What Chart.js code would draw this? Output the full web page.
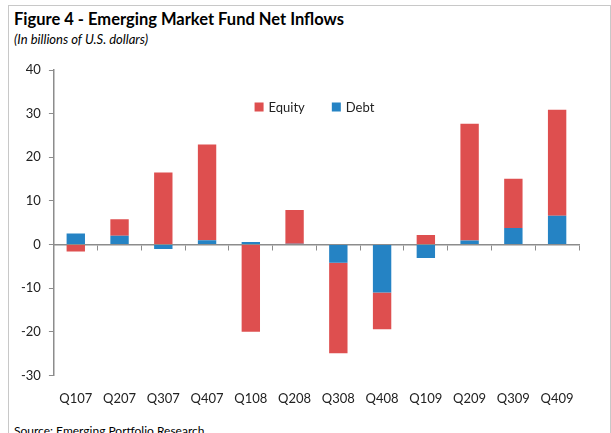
<!DOCTYPE html>
<html>
<head>
<meta charset="utf-8">
<script src="https://cdn.jsdelivr.net/npm/chart.js@4/dist/chart.umd.min.js"></script>
<style>
  html, body { margin: 0; padding: 0; background: #fff; }
  body { width: 611px; height: 433px; position: relative; overflow: hidden; font-family: Lato, "Open Sans", sans-serif; }
  .frame { position: absolute; left: 8px; top: 5px; width: 601px; height: 440px; border: 1px solid #c8c8c8; border-bottom: none; }
  .title { position: absolute; left: 14px; top: 9px; font-size: 16.5px; font-weight: bold; color: #000; }
  .subtitle { position: absolute; left: 14px; top: 31px; font-size: 13px; font-style: italic; color: #000; }
  .source { position: absolute; left: 14px; top: 423px; font-size: 12px; color: #000; }
  #chartWrap { position: absolute; left: 0; top: 0; width: 611px; height: 433px; }
</style>
</head>
<body>
<div class="frame"></div>
<div class="title">Figure 4 - Emerging Market Fund Net Inflows</div>
<div class="subtitle">(In billions of U.S. dollars)</div>
<div class="source">Source: Emerging Portfolio Research</div>
<div id="chartWrap"><canvas id="fundChart" width="611" height="433"></canvas></div>
<script>
// data
const quarters = ['Q107', 'Q207', 'Q307', 'Q407', 'Q108', 'Q208', 'Q308', 'Q408', 'Q109', 'Q209', 'Q309', 'Q409'];
const debt = [2.5, 2.0, -1.0, 1.0, 0.6, 0.2, -4.2, -11.0, -3.1, 0.9, 3.8, 6.6];
const equity = [-1.6, 3.8, 16.5, 21.9, -20.0, 7.7, -20.7, -8.4, 2.2, 26.8, 11.3, 24.3];
const yTicks = [-30, -20, -10, 0, 10, 20, 30, 40];

const equityColor = '#de4f4f';
const debtColor = '#2583c4';
const axisColor = '#8c8c8c';

// legend drawn inside the plot area, like the original
const innerLegend = {
    id: 'innerLegend',
    afterDraw(chart) {
        const ctx = chart.ctx;
        const area = chart.chartArea;
        const items = chart.data.datasets.slice().reverse();
        ctx.save();
        ctx.font = '13px Lato, "Open Sans", sans-serif';
        ctx.textBaseline = 'middle';
        const box = 9, gap = 5, spacing = 27;
        let total = 0;
        items.forEach((ds, i) => {
            total += box + gap + ctx.measureText(ds.label).width + (i < items.length - 1 ? spacing : 0);
        });
        let x = (area.left + area.right) / 2 - total / 2 - 2;
        const y = 107;
        items.forEach(ds => {
            ctx.fillStyle = ds.backgroundColor;
            ctx.fillRect(x, y - box / 2, box, box);
            x += box + gap;
            ctx.fillStyle = '#222';
            ctx.fillText(ds.label, x, y + 1);
            x += ctx.measureText(ds.label).width + spacing;
        });
        ctx.restore();
    }
};

const ctx = document.getElementById('fundChart').getContext('2d');
const fundChart = new Chart(ctx, {
    type: 'bar',
    data: {
        labels: quarters,
        datasets: [{
            label: 'Debt',
            data: debt,
            backgroundColor: debtColor,
            barPercentage: 0.42,
            categoryPercentage: 1
        }, {
            label: 'Equity',
            data: equity,
            backgroundColor: equityColor,
            barPercentage: 0.42,
            categoryPercentage: 1
        }]
    },
    options: {
        responsive: false,
        animation: false,
        layout: {
            padding: { left: 13, right: 32, top: 70, bottom: 18 }
        },
        scales: {
            x: {
                stacked: true,
                position: { y: 0 },
                grid: { display: true, drawOnChartArea: false, drawTicks: true, tickLength: 5, color: axisColor, offset: true },
                border: { display: true, color: axisColor, width: 1.5 },
                ticks: { display: false }
            },
            xLabels: {
                type: 'category',
                labels: quarters,
                position: 'bottom',
                grid: { display: false },
                border: { display: false },
                ticks: { color: '#222', font: { size: 13, family: 'Lato, "Open Sans", sans-serif' }, padding: 8, maxRotation: 0, autoSkip: false }
            },
            y: {
                stacked: true,
                min: -30,
                max: 40,
                afterBuildTicks: scale => { scale.ticks = yTicks.map(v => ({ value: v })); },
                grid: { display: true, drawOnChartArea: false, drawTicks: true, tickLength: 5, color: axisColor },
                border: { display: true, color: axisColor, width: 1.5 },
                ticks: { color: '#222', font: { size: 13, family: 'Lato, "Open Sans", sans-serif' }, padding: 8 }
            }
        },
        plugins: {
            legend: { display: false },
            tooltip: { enabled: false }
        }
    },
    plugins: [innerLegend]
});
</script>
</body>
</html>
